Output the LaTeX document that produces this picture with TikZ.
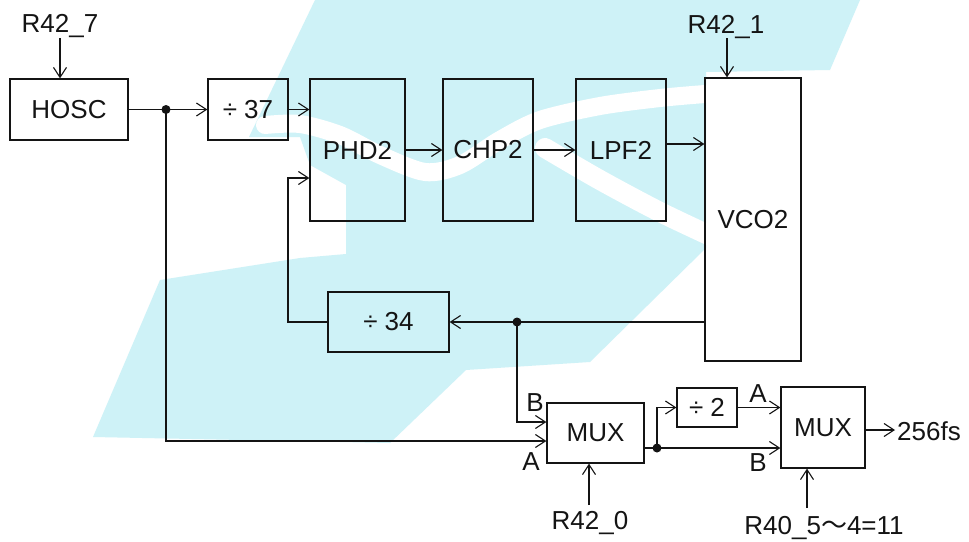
\documentclass[tikz,border=0pt]{standalone}
\usepackage{fontspec}
\setmainfont{Liberation Sans}
\newfontfamily\cjk{Noto Sans CJK SC}
\usetikzlibrary{arrows.meta}
\definecolor{wm}{RGB}{206,242,247}
\definecolor{ink}{RGB}{20,20,20}
\newcommand{\dvd}{÷\hspace{7pt}}
\begin{document}
\begin{tikzpicture}[x=1pt,y=-1pt,
  every node/.style={font=\fontsize{26}{30}\selectfont, text=ink},
  blk/.style={draw=ink, line width=1.2pt, inner sep=0pt},
  wire/.style={draw=ink, line width=1.1pt},
  arr/.style={wire, -{Straight Barb[length=10pt,width=13pt,line width=1.1pt]}},
  lbl/.style={inner sep=0pt}
]
\fill[white] (0,0) rectangle (969,541);
\useasboundingbox (0,0) rectangle (969,541);
% watermark
\fill[wm] (315,0) -- (860,0) -- (830,70) -- (706,72) -- (706,248) -- (590,362) -- (466,370) -- (390,443) -- (93,437) -- (160,280) -- (300,258) -- (346,254) -- (346,185) -- (310,165) -- (300,137) -- (249,137) -- cycle;
\draw[white, line width=18pt, line cap=round, line join=round] plot[smooth] coordinates {(265,125) (300,124) (340,135) (380,155) (425,172) (460,165) (500,140) (540,120) (600,106) (660,98) (705,94)};
\draw[white, line width=20pt, line cap=round] plot[smooth] coordinates {(545,148) (600,180) (660,212) (715,238)};

% blocks
\node[blk, minimum width=118pt, minimum height=61pt] (hosc) at (69,109.5) {HOSC};
\node[blk, minimum width=80pt, minimum height=61pt] (d37) at (248,109.5) {\dvd37};
\node[blk, minimum width=95pt, minimum height=142pt] (phd) at (357.5,150) {PHD2};
\node[blk, minimum width=90pt, minimum height=142pt] (chp) at (488,150) {CHP2};
\node[blk, minimum width=90pt, minimum height=142pt] (lpf) at (621,150) {LPF2};
\node[blk, minimum width=96pt, minimum height=283pt] (vco) at (753,219.5) {VCO2};
\node[blk, minimum width=121pt, minimum height=60pt] (d34) at (388.5,322) {\dvd34};
\node[blk, minimum width=97pt, minimum height=60pt] (mux1) at (595.5,433) {MUX};
\node[blk, minimum width=60pt, minimum height=39pt] (d2) at (707,407.5) {\dvd2};
\node[blk, minimum width=84pt, minimum height=81pt] (mux2) at (823,427.5) {MUX};

% labels
\node[lbl, anchor=base] (r427) at (60,32) {R42\_7};
\node[lbl, anchor=base] (r421) at (726,33) {R42\_1};
\node[lbl, anchor=base] (r420) at (590,529) {R42\_0};
\node[lbl, anchor=base] (r40) at (824,534) {R40\_5{\cjk ～}4=11};
\node[lbl, anchor=base west] (out) at (897,440) {256fs};
\node[lbl] (lb1) at (535,403) {B};
\node[lbl] (la1) at (531,462) {A};
\node[lbl] (la2) at (758,394) {A};
\node[lbl] (lb2) at (758,463) {B};

% coordinates
\coordinate (s7) at (60,38);
\coordinate (s1) at (727,38);
\coordinate (s0) at (589,505);
\coordinate (s40) at (807,508);
\coordinate (j1) at (166,109.5);
\coordinate (j2) at (517,322);
\coordinate (j3) at (657,448);
\coordinate (c1) at (288,178);
\coordinate (o1) at (895,430);

% connectors
\draw[arr] (s7) -- (s7 |- hosc.north);
\draw[arr] (s1) -- (s1 |- vco.north);
\draw[arr] (s0) -- (s0 |- mux1.south);
\draw[arr] (s40) -- (s40 |- mux2.south);
\draw[arr] (hosc.east) -- (d37.west);
\draw[arr] (d37.east) -- (d37.east -| phd.west);
\draw[arr] (phd.east) -- (chp.west);
\draw[arr] (chp.east) -- (lpf.west);
\draw[arr] ([yshift=6pt]lpf.east) -- ([yshift=6pt]vco.west |- lpf.east);
\draw[arr] (vco.west |- d34.east) -- (d34.east);
\draw[arr] (d34.west) -| (c1) -- (c1 -| phd.west);
\draw[arr] (j2) |- ([yshift=11pt]mux1.west);
\draw[arr] (j1) |- ([yshift=-8pt]mux1.west);
\draw[wire] ([yshift=-15pt]mux1.east) -- (j3);
\draw[arr] (j3) -- (j3 -| mux2.west);
\draw[arr] (j3) |- (d2.west);
\draw[arr] (d2.east) -- (d2.east -| mux2.west);
\draw[arr] ([yshift=-2.5pt]mux2.east) -- (o1);
\fill[ink] (j1) circle (4.5pt);
\fill[ink] (j2) circle (4.5pt);
\fill[ink] (j3) circle (4.5pt);
\end{tikzpicture}
\end{document}
